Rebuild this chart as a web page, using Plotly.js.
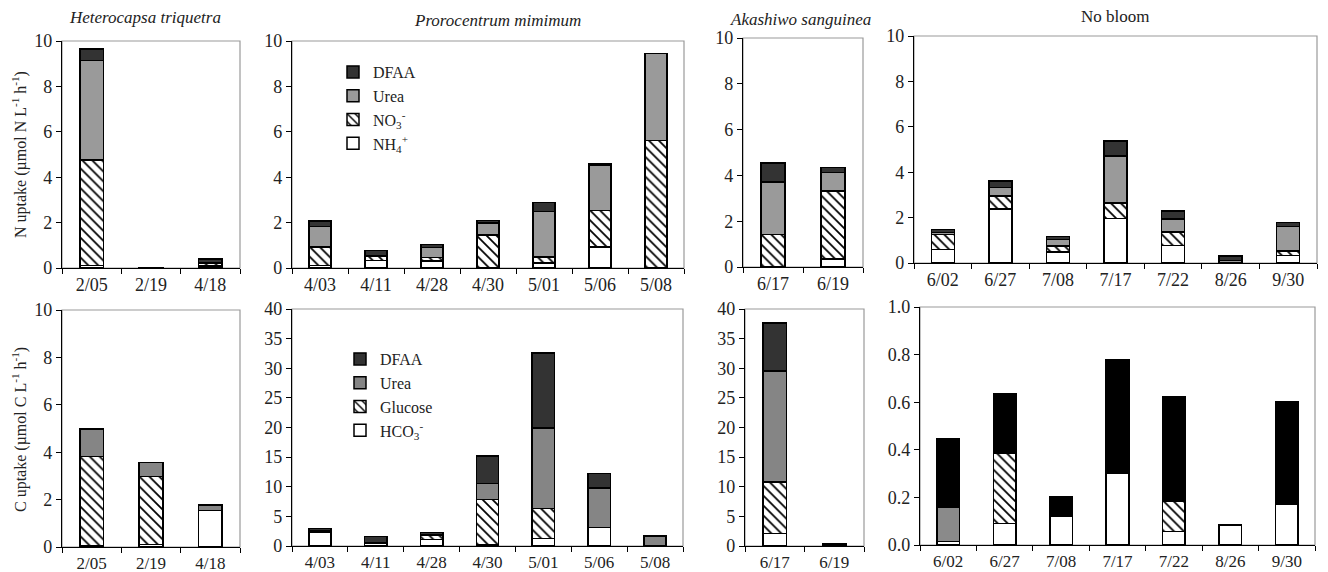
<!DOCTYPE html>
<html><head><meta charset="utf-8">
<script src="https://cdn.plot.ly/plotly-3.0.1.min.js"></script>
<style>html,body{margin:0;padding:0;background:#fff}#chart{width:1328px;height:572px}</style>
</head><body><div id="chart"></div>
<script>
// ---- categories ----
const catsHT = ['2/05','2/19','4/18'];
const catsPM = ['4/03','4/11','4/28','4/30','5/01','5/06','5/08'];
const catsAS = ['6/17','6/19'];
const catsNB = ['6/02','6/27','7/08','7/17','7/22','8/26','9/30'];

// ---- N uptake (top row) ----
const nNH4_HT  = [0.10, 0.01, 0.08];
const nNO3_HT  = [4.65, 0.01, 0.12];
const nUrea_HT = [4.40, 0.01, 0.05];
const nDFAA_HT = [0.50, 0.00, 0.15];

const nNH4_PM  = [0.12, 0.33, 0.31, 0.03, 0.22, 0.92, 0.02];
const nNO3_PM  = [0.80, 0.18, 0.16, 1.43, 0.26, 1.61, 5.59];
const nUrea_PM = [0.91, 0.05, 0.44, 0.53, 2.02, 2.01, 3.83];
const nDFAA_PM = [0.25, 0.22, 0.13, 0.10, 0.38, 0.07, 0.00];

const nNH4_AS  = [0.02, 0.34];
const nNO3_AS  = [1.40, 2.97];
const nUrea_AS = [2.30, 0.82];
const nDFAA_AS = [0.83, 0.21];

const nNH4_NB  = [0.59, 2.39, 0.48, 1.95, 0.78, 0.02, 0.34];
const nNO3_NB  = [0.66, 0.57, 0.28, 0.69, 0.58, 0.00, 0.19];
const nUrea_NB = [0.10, 0.37, 0.27, 2.08, 0.58, 0.09, 1.08];
const nDFAA_NB = [0.12, 0.29, 0.13, 0.66, 0.35, 0.20, 0.18];

// ---- C uptake (bottom row) ----
const cHCO3_HT = [0.05, 0.10, 1.55];
const cGluc_HT = [3.77, 2.88, 0.00];
const cUrea_HT = [1.15, 0.59, 0.23];
const cDFAA_HT = [0.00, 0.00, 0.00];

const cHCO3_PM = [2.40, 0.40, 1.12, 0.20, 1.24, 3.09, 0.00];
const cGluc_PM = [0.10, 0.10, 0.68, 7.67, 5.06, 0.00, 0.00];
const cUrea_PM = [0.10, 0.10, 0.15, 2.69, 13.64, 6.74, 1.69];
const cDFAA_PM = [0.32, 1.00, 0.30, 4.61, 12.66, 2.42, 0.00];

const cHCO3_AS = [2.13, 0.20];
const cGluc_AS = [8.71, 0.00];
const cUrea_AS = [18.66, 0.25];
const cDFAA_AS = [8.10, 0.00];

const cHCO3_NB = [0.014, 0.091, 0.122, 0.300, 0.056, 0.085, 0.173];
const cGluc_NB = [0.000, 0.294, 0.000, 0.000, 0.129, 0.000, 0.000];
const cUrea_NB = [0.146, 0.000, 0.000, 0.000, 0.000, 0.000, 0.000];
const cDFAA_NB = [0.286, 0.251, 0.081, 0.479, 0.436, 0.000, 0.427];

// ---- labels ----
const nNames = ['NH<sub>4</sub><sup>+</sup>', 'NO<sub>3</sub><sup>-</sup>', 'Urea', 'DFAA'];
const cNames = ['HCO<sub>3</sub><sup>-</sup>', 'Glucose', 'Urea', 'DFAA'];
const panelTitles = ['Heterocapsa triquetra', 'Prorocentrum mimimum', 'Akashiwo sanguinea', 'No bloom'];

const FONT = 'Liberation Serif, Times New Roman, serif';
const traces = [];

function addPanel(cats, series, names, colors, xa, ya, legendName, showLeg) {
  series.forEach((vals, i) => {
    const m = {color: colors[i], line: {color: '#000', width: 1.5}};
    if (i === 1) m.pattern = {shape: '\\', fgcolor: '#000', bgcolor: '#fff', size: 7, solidity: 0.25};
    traces.push({
      type: 'bar', x: cats, y: vals, name: names[i], marker: m,
      xaxis: xa, yaxis: ya, showlegend: showLeg, legend: legendName,
      hoverinfo: 'x+y+name'
    });
  });
}

const topCol = ['#ffffff', '#ffffff', '#9a9a9a', '#333333'];
const botCol = ['#ffffff', '#ffffff', '#858585', '#333333'];
const botColNB = ['#ffffff', '#ffffff', '#8a8a8a', '#000000'];

addPanel(catsHT, [nNH4_HT, nNO3_HT, nUrea_HT, nDFAA_HT], nNames, topCol, 'x', 'y', 'legend', false);
addPanel(catsPM, [nNH4_PM, nNO3_PM, nUrea_PM, nDFAA_PM], nNames, topCol, 'x2', 'y2', 'legend', true);
addPanel(catsAS, [nNH4_AS, nNO3_AS, nUrea_AS, nDFAA_AS], nNames, topCol, 'x3', 'y3', 'legend', false);
addPanel(catsNB, [nNH4_NB, nNO3_NB, nUrea_NB, nDFAA_NB], nNames, topCol, 'x4', 'y4', 'legend', false);
addPanel(catsHT, [cHCO3_HT, cGluc_HT, cUrea_HT, cDFAA_HT], cNames, botCol, 'x5', 'y5', 'legend2', false);
addPanel(catsPM, [cHCO3_PM, cGluc_PM, cUrea_PM, cDFAA_PM], cNames, botCol, 'x6', 'y6', 'legend2', true);
addPanel(catsAS, [cHCO3_AS, cGluc_AS, cUrea_AS, cDFAA_AS], cNames, botCol, 'x7', 'y7', 'legend2', false);
addPanel(catsNB, [cHCO3_NB, cGluc_NB, cUrea_NB, cDFAA_NB], cNames, botColNB, 'x8', 'y8', 'legend2', false);

const W = 1328, H = 572;
const px = v => v / W, py = v => 1 - v / H;

// panel pixel boxes [left, right, topPx, bottomPx]
const boxes = [
  [62, 240, 41, 268], [292, 684, 41, 268], [743, 863, 38, 267], [914, 1317, 36, 263],
  [62, 240, 310, 547], [292, 683, 309, 546], [745, 864, 309, 546], [920, 1315, 307, 545]
];
const yRanges = [[0,10],[0,10],[0,10],[0,10],[0,10],[0,40],[0,40],[0,1]];
const yDticks = [2,2,2,2,2,5,5,0.2];

const layout = {
  width: W, height: H, margin: {l: 0, r: 0, t: 0, b: 0},
  paper_bgcolor: '#fff', plot_bgcolor: 'rgba(0,0,0,0)',
  barmode: 'stack', bargap: 0.6,
  font: {family: FONT, size: 17, color: '#222'},
  shapes: [], annotations: [],
  legend: {x: px(333), y: py(55), xanchor: 'left', yanchor: 'top', traceorder: 'reversed',
           bgcolor: 'rgba(0,0,0,0)', font: {family: FONT, size: 16, color: '#222'}, tracegroupgap: 0},
  legend2: {x: px(340), y: py(342), xanchor: 'left', yanchor: 'top', traceorder: 'reversed',
           bgcolor: 'rgba(0,0,0,0)', font: {family: FONT, size: 16, color: '#222'}, tracegroupgap: 0}
};

boxes.forEach((b, i) => {
  const n = i + 1;
  const xk = 'xaxis' + (n === 1 ? '' : n), yk = 'yaxis' + (n === 1 ? '' : n);
  const yid = 'y' + (n === 1 ? '' : n), xid = 'x' + (n === 1 ? '' : n);
  layout[xk] = {
    domain: [px(b[0]), px(b[1])], anchor: yid, type: 'category',
    showline: true, linecolor: '#000', linewidth: 1.2, ticks: 'outside', tickson: 'boundaries',
    ticklen: 5, tickcolor: '#000', showgrid: false, zeroline: false, fixedrange: true,
    tickfont: {family: FONT, size: i < 4 ? 18 : 17, color: '#222'}
  };
  layout[yk] = {
    domain: [py(b[3]), py(b[2])], anchor: xid, range: yRanges[i], dtick: yDticks[i],
    showline: true, linecolor: '#000', linewidth: 1.2, ticks: 'outside', ticklen: 5, tickcolor: '#000',
    showgrid: false, zeroline: false, fixedrange: true,
    tickformat: i === 7 ? '.1f' : '', tickfont: {family: FONT, size: 18, color: '#222'}
  };
  layout.shapes.push({type: 'rect', xref: xid + ' domain', yref: yid + ' domain', x0: 0, x1: 1, y0: 0, y1: 1,
    line: {color: '#9a9a9a', width: 1.2}, layer: 'below'});
});

// panel titles
const titleX = [145, 497, 800, 1115];
const titleY = [18, 21, 19, 17];
panelTitles.forEach((t, i) => {
  layout.annotations.push({text: i < 3 ? '<i>' + t + '</i>' : t, xref: 'paper', yref: 'paper',
    x: px(titleX[i]), y: py(titleY[i]), showarrow: false, xanchor: 'center', yanchor: 'middle',
    font: {family: FONT, size: 17, color: '#222'}});
});

// y-axis titles
layout.annotations.push({text: 'N uptake (µmol N L<sup>-1</sup> h<sup>-1</sup>)', xref: 'paper', yref: 'paper',
  x: px(19), y: py(155), textangle: -90, showarrow: false, xanchor: 'center', yanchor: 'middle',
  font: {family: FONT, size: 16, color: '#222'}});
layout.annotations.push({text: 'C uptake (µmol C L<sup>-1</sup> h<sup>-1</sup>)', xref: 'paper', yref: 'paper',
  x: px(19), y: py(430), textangle: -90, showarrow: false, xanchor: 'center', yanchor: 'middle',
  font: {family: FONT, size: 16, color: '#222'}});

Plotly.newPlot('chart', traces, layout, {displayModeBar: false, staticPlot: true});
</script></body></html>
